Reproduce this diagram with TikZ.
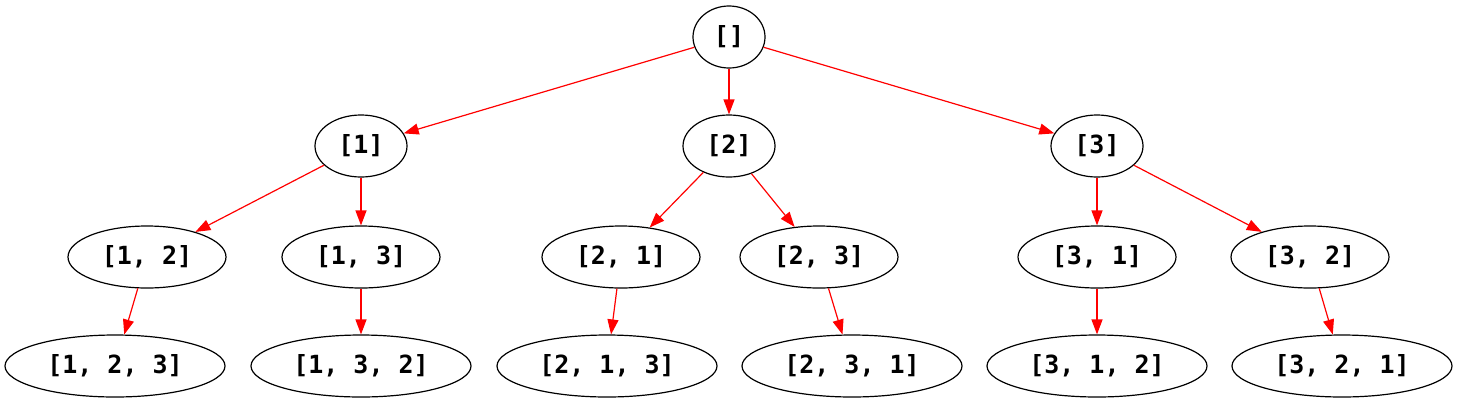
\documentclass[tikz,border=0pt]{standalone}
\usepackage{fontspec}
\newfontfamily\nodefont{DejaVu Sans Mono}[BoldFont={DejaVu Sans Mono Bold}]
\usetikzlibrary{shapes.geometric,arrows.meta}
\begin{document}
\begin{tikzpicture}[x=1pt,y=-1pt,
  nd/.style={ellipse,draw=black,line width=1.2pt,inner sep=0pt,minimum height=62pt,
    font=\fontsize{25}{30}\nodefont\bfseries},
  l0/.style={nd,minimum width=72pt},
  l1/.style={nd,minimum width=92pt},
  l2/.style={nd,minimum width=158pt},
  l3/.style={nd,minimum width=220pt},
  ed/.style={red,line width=1.2pt,-{Triangle[length=15pt,width=11pt]}}]
\useasboundingbox (0,0) rectangle (1458,402);
\node[l0] (r) at (729,37) {[]};
\node[l1] (a1) at (361,146) {[1]};
\node[l1] (a2) at (729,146) {[2]};
\node[l1] (a3) at (1097,146) {[3]};
\node[l2] (b12) at (147,257) {[1, 2]};
\node[l2] (b13) at (361,257) {[1, 3]};
\node[l2] (b21) at (621,257) {[2, 1]};
\node[l2] (b23) at (819,257) {[2, 3]};
\node[l2] (b31) at (1097,257) {[3, 1]};
\node[l2] (b32) at (1310,257) {[3, 2]};
\node[l3] (c123) at (115,366) {[1, 2, 3]};
\node[l3] (c132) at (361,366) {[1, 3, 2]};
\node[l3] (c213) at (607,366) {[2, 1, 3]};
\node[l3] (c231) at (852,366) {[2, 3, 1]};
\node[l3] (c312) at (1097,366) {[3, 1, 2]};
\node[l3] (c321) at (1342,366) {[3, 2, 1]};
\draw[ed] (r) -- (a1);
\draw[ed] (r) -- (a2);
\draw[ed] (r) -- (a3);
\draw[ed] (a1) -- (b12);
\draw[ed] (a1) -- (b13);
\draw[ed] (a2) -- (b21);
\draw[ed] (a2) -- (b23);
\draw[ed] (a3) -- (b31);
\draw[ed] (a3) -- (b32);
\draw[ed] (b12) -- (c123);
\draw[ed] (b13) -- (c132);
\draw[ed] (b21) -- (c213);
\draw[ed] (b23) -- (c231);
\draw[ed] (b31) -- (c312);
\draw[ed] (b32) -- (c321);
\end{tikzpicture}
\end{document}
